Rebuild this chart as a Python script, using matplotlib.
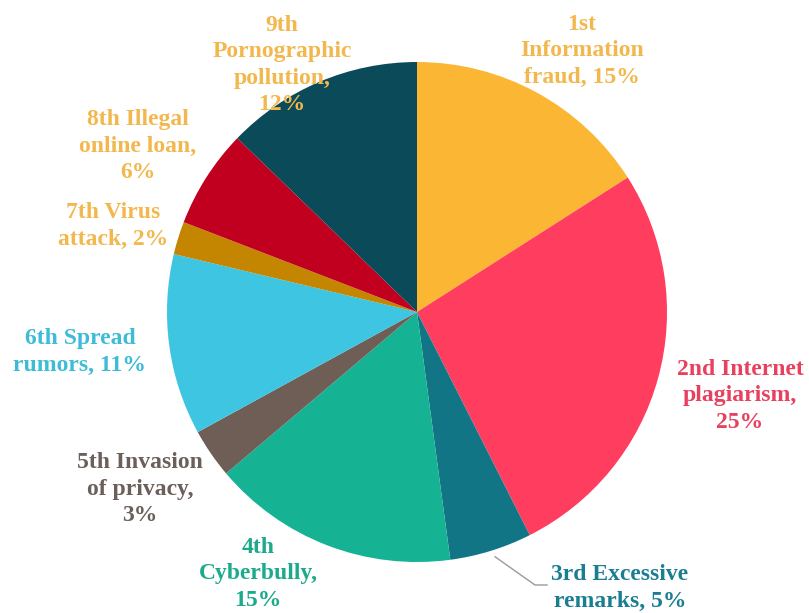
import numpy as np
import matplotlib.pyplot as plt

labels = ["1st\nInformation\nfraud, 15%", "2nd Internet\nplagiarism,\n25%", "3rd Excessive\nremarks, 5%",
          "4th\nCyberbully,\n15%", "5th Invasion\nof privacy,\n3%", "6th Spread\nrumors, 11%",
          "7th Virus\nattack, 2%", "8th Illegal\nonline loan,\n6%", "9th\nPornographic\npollution,\n12%"]
values = [15, 25, 5, 15, 3, 11, 2, 6, 12]
colors = ["#FBB634", "#FF3D5E", "#117586", "#15B294", "#6E5E56", "#3DC5E2", "#C48500", "#C0001E", "#0B4A58"]
text_colors = ["#F2B84E", "#E8405E", "#1A7E92", "#1CA98C", "#6B5F5A", "#3DBCD8", "#F2B84E", "#F2B84E", "#F2B84E"]

W, H = 809, 613
fig = plt.figure(figsize=(W / 100, H / 100), dpi=100)
ax = fig.add_axes([0, 0, 1, 1])

cx, cy, r = 417, H - 312, 250
wedges, _ = ax.pie(values, colors=colors, startangle=90, counterclock=False,
                   center=(cx, cy), radius=r, frame=True)
ax.set_xlim(0, W)
ax.set_ylim(0, H)
ax.set_aspect('equal')
ax.axis('off')

# label centres in image pixels
label_pos = [(582, 51), (740, 396), (620, 588), (258, 574), (140, 489),
             (80, 352), (113, 226), (138, 146), (282, 65)]
for lab, (x, y), c in zip(labels, label_pos, text_colors):
    ax.text(x, H - y, lab, ha='center', va='center', color=c, fontsize=17,
            fontweight='bold', family='Liberation Serif', linespacing=1.35, zorder=5)

# leader line for the small 3rd slice
w = wedges[2]
ang = np.deg2rad((w.theta1 + w.theta2) / 2)
x0, y0 = cx + r * np.cos(ang), cy + r * np.sin(ang)
ax.plot([x0 + 4, 535, 547], [y0 - 6, H - 585, H - 585], color='#9a9a9a', lw=1, zorder=1)

plt.savefig('out.png', dpi=100)
